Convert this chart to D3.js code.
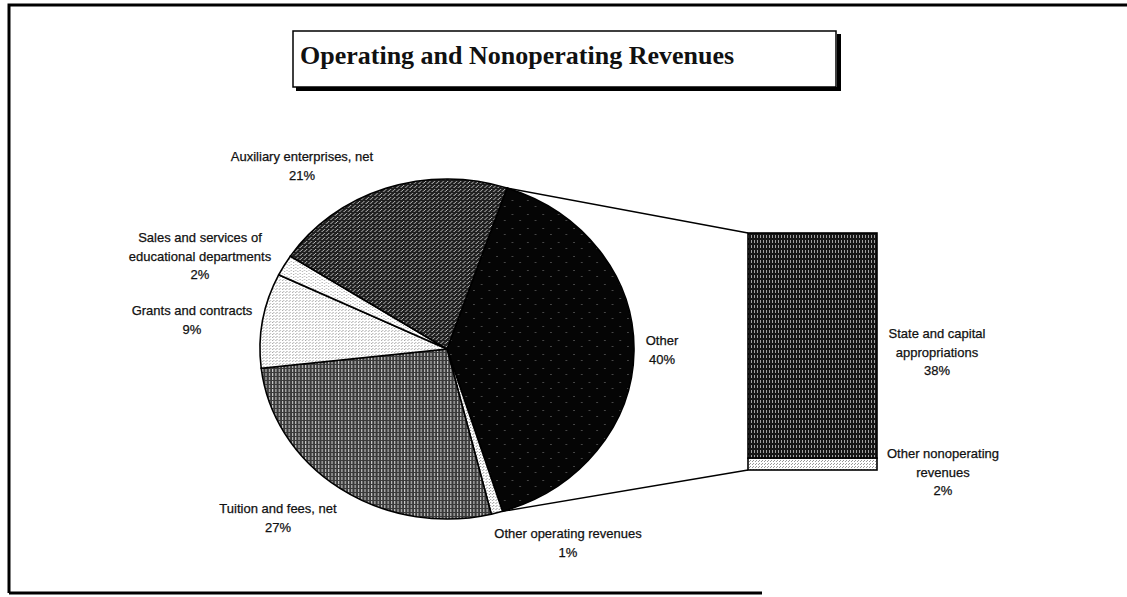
<!DOCTYPE html>
<html lang="en">
<head>
<meta charset="utf-8">
<title>Operating and Nonoperating Revenues</title>
<script src="https://d3js.org/d3.v7.min.js"></script>
<style>
  body { margin: 0; background: #fff; }
  .lbl { font-family: "Liberation Sans", Arial, sans-serif; font-size: 13px; fill: #111; stroke: #111; stroke-width: 0.25; }
  .title { font-family: "Liberation Serif", "Times New Roman", serif; font-weight: bold; font-size: 26px; fill: #111; }
</style>
</head>
<body>
<script>
// pie slices, clockwise starting from "Other"
const categories = ["Other", "Other operating revenues", "Tuition and fees, net",
                    "Grants and contracts", "Sales and services of educational departments",
                    "Auxiliary enterprises, net"];
const shares = [40, 1, 27, 9, 2, 21];

// breakdown of "Other" shown in the bar (top to bottom)
const otherParts = ["State and capital appropriations", "Other nonoperating revenues"];
const otherShares = [38, 2];

const titleText = "Operating and Nonoperating Revenues";

// how the labels wrap
const wrap = {
  "Sales and services of educational departments": ["Sales and services of", "educational departments"],
  "State and capital appropriations": ["State and capital", "appropriations"],
  "Other nonoperating revenues": ["Other nonoperating", "revenues"]
};

const width = 1127, height = 597;
const cx = 447, cy = 349, rx = 187, ry = 170;
const lineH = 18.5;

const svg = d3.select("body").append("svg")
  .attr("width", width).attr("height", height);

// halftone-ish fills
const defs = svg.append("defs");
function pattern(id, w, h, bg, dots, dotColor) {
  const p = defs.append("pattern").attr("id", id)
    .attr("patternUnits", "userSpaceOnUse").attr("width", w).attr("height", h);
  p.append("rect").attr("width", w).attr("height", h).attr("fill", bg);
  dots.forEach(d => p.append("rect").attr("x", d[0]).attr("y", d[1])
    .attr("width", d[2] || 1).attr("height", d[3] || 1).attr("fill", dotColor));
}
pattern("p-other", 14, 14, "#050505", [[3, 5], [10, 11]], "#777");
pattern("p-oper", 3, 3, "#fff", [[0, 0], [2, 1]], "#999");
pattern("p-tuition", 3, 4, "#3a3a3a", [[0, 0, 1, 3]], "#c8c8c8");
pattern("p-grants", 3, 3, "#fff", [[0, 0], [1, 2]], "#aaa");
pattern("p-sales", 4, 3, "#fff", [[0, 0], [2, 2]], "#aaa");
pattern("p-aux", 4, 4, "#1e1e1e", [[0, 0], [2, 2], [3, 1]], "#bbb");
pattern("p-state", 3, 5, "#161616", [[1, 0, 1, 3]], "#a0a0a0");
pattern("p-nonop", 3, 3, "#fff", [[0, 1], [2, 2]], "#999");
const sliceFill = ["url(#p-other)", "url(#p-oper)", "url(#p-tuition)", "url(#p-grants)", "url(#p-sales)", "url(#p-aux)"];
const barFill = ["url(#p-state)", "url(#p-nonop)"];

// outer frame (right side runs off the page)
svg.append("path").attr("d", "M9,593 V5 H1127")
  .attr("fill", "none").attr("stroke", "#000").attr("stroke-width", 3);
svg.append("line").attr("x1", 9).attr("x2", 762).attr("y1", 593).attr("y2", 593)
  .attr("stroke", "#000").attr("stroke-width", 3);

// title box with shadow
svg.append("path").attr("d", "M296,89 H839 V34")
  .attr("fill", "none").attr("stroke", "#000").attr("stroke-width", 4);
svg.append("rect").attr("x", 293).attr("y", 31).attr("width", 543).attr("height", 56)
  .attr("fill", "#fff").attr("stroke", "#000").attr("stroke-width", 1.5);
svg.append("text").attr("class", "title").attr("x", 300).attr("y", 64).text(titleText);

// pie
const a0 = 18.7 * Math.PI / 180;
const pie = d3.pie().sort(null).value(d => d).startAngle(a0).endAngle(a0 + 2 * Math.PI);
const arcs = pie(shares);
const arc = d3.arc().innerRadius(0).outerRadius(ry);

const pieG = svg.append("g")
  .attr("transform", `translate(${cx},${cy}) scale(${rx / ry},1)`);
pieG.selectAll("path").data(arcs).enter().append("path")
  .attr("d", arc)
  .attr("fill", (d, i) => sliceFill[i])
  .attr("stroke", "#000").attr("stroke-width", 1.6)
  .attr("vector-effect", "non-scaling-stroke");

// point on the ellipse rim for a pie angle
const rim = a => [cx + rx * Math.sin(a), cy - ry * Math.cos(a)];

// stacked bar for "Other", first part on top
const barX = 748, barW = 129;
const yScale = d3.scaleLinear().domain([0, d3.sum(otherShares)]).range([233, 470]);
let acc = 0;
const stack = otherShares.map(v => { const s = { y0: acc, y1: acc + v }; acc += v; return s; });
svg.selectAll("rect.bar").data(stack).enter().append("rect").attr("class", "bar")
  .attr("x", barX).attr("width", barW)
  .attr("y", d => yScale(d.y0)).attr("height", d => yScale(d.y1) - yScale(d.y0))
  .attr("fill", (d, i) => barFill[i])
  .attr("stroke", "#000").attr("stroke-width", 1.6);

// connector lines from the "Other" slice to the bar
const pTop = rim(arcs[0].startAngle), pBot = rim(arcs[0].endAngle);
svg.append("line").attr("x1", pTop[0]).attr("y1", pTop[1])
  .attr("x2", barX).attr("y2", yScale(0))
  .attr("stroke", "#000").attr("stroke-width", 1.5);
svg.append("line").attr("x1", pBot[0]).attr("y1", pBot[1])
  .attr("x2", barX).attr("y2", yScale(d3.sum(otherShares)))
  .attr("stroke", "#000").attr("stroke-width", 1.5);

// labels: centre x and first baseline
const slicePos = [[662, 345], [568, 538], [278, 513], [192, 315], [200, 242], [302, 161]];
const barPos = [[937, 338], [943, 458]];

function label(name, value, pos) {
  const lines = (wrap[name] || [name]).concat([value + "%"]);
  const t = svg.append("text").attr("class", "lbl").attr("text-anchor", "middle");
  lines.forEach((s, k) => t.append("tspan").attr("x", pos[0]).attr("y", pos[1] + k * lineH).text(s));
}
categories.forEach((c, i) => label(c, shares[i], slicePos[i]));
otherParts.forEach((c, i) => label(c, otherShares[i], barPos[i]));
</script>
</body>
</html>
